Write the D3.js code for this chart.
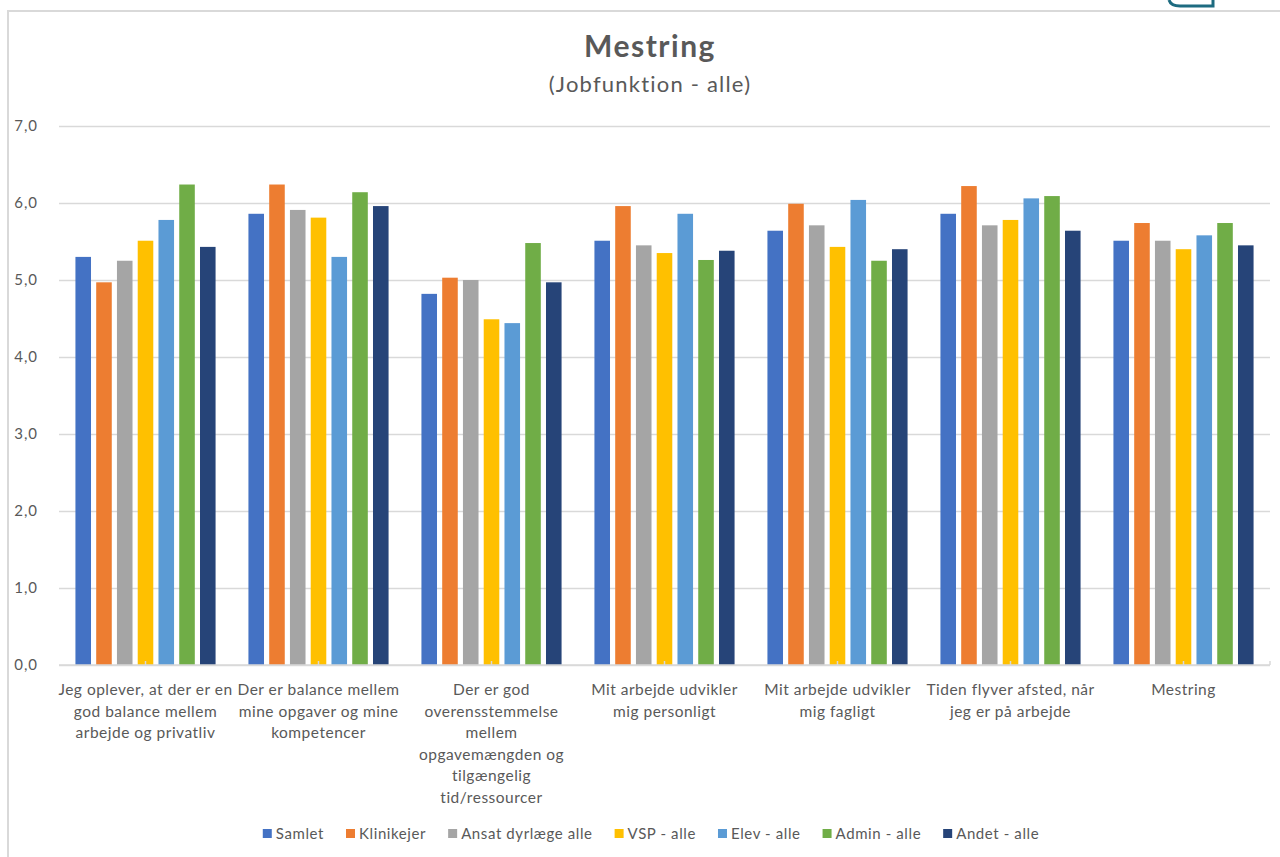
<!DOCTYPE html>
<html>
<head>
<meta charset="utf-8">
<script src="https://cdn.jsdelivr.net/npm/d3@7"></script>
<style>
  html, body { margin: 0; padding: 0; background: #fff; }
  svg { display: block; }
  text { font-family: Lato, "Open Sans", sans-serif; fill: #595959; }
</style>
</head>
<body>
<svg id="chart" width="1280" height="857"></svg>
<script>
// Survey: "Mestring" scores per job function
const categories = [
  "Jeg oplever, at der er en god balance mellem arbejde og privatliv",
  "Der er balance mellem mine opgaver og mine kompetencer",
  "Der er god overensstemmelse mellem opgavemængden og tilgængelig tid/ressourcer",
  "Mit arbejde udvikler mig personligt",
  "Mit arbejde udvikler mig fagligt",
  "Tiden flyver afsted, når jeg er på arbejde",
  "Mestring"
];
const categoryLines = [
  ["Jeg oplever, at der er en", "god balance mellem", "arbejde og privatliv"],
  ["Der er balance mellem", "mine opgaver og mine", "kompetencer"],
  ["Der er god", "overensstemmelse", "mellem", "opgavemængden og", "tilgængelig", "tid/ressourcer"],
  ["Mit arbejde udvikler", "mig personligt"],
  ["Mit arbejde udvikler", "mig fagligt"],
  ["Tiden flyver afsted, når", "jeg er på arbejde"],
  ["Mestring"]
];
const seriesNames = ["Samlet", "Klinikejer", "Ansat dyrlæge alle", "VSP - alle", "Elev - alle", "Admin - alle", "Andet - alle"];
const samlet     = [5.30, 5.86, 4.82, 5.51, 5.64, 5.86, 5.51];
const klinikejer = [4.97, 6.24, 5.03, 5.96, 5.99, 6.22, 5.74];
const ansat      = [5.25, 5.91, 5.00, 5.45, 5.71, 5.71, 5.51];
const vsp        = [5.51, 5.81, 4.49, 5.35, 5.43, 5.78, 5.40];
const elev       = [5.78, 5.30, 4.44, 5.86, 6.04, 6.06, 5.58];
const admin      = [6.24, 6.14, 5.48, 5.26, 5.25, 6.09, 5.74];
const andet      = [5.43, 5.96, 4.97, 5.38, 5.40, 5.64, 5.45];
const seriesValues = [samlet, klinikejer, ansat, vsp, elev, admin, andet];
const seriesColors = ["#4472C4", "#ED7D31", "#A5A5A5", "#FFC000", "#5B9BD5", "#70AD47", "#264478"];
const yTicks = [0, 1, 2, 3, 4, 5, 6, 7];

const svg = d3.select("#chart");
const plot = { left: 59, right: 1270, top: 126, bottom: 665 };

// Chart frame and a partial corner emblem above it
svg.append("rect")
  .attr("x", 8).attr("y", 11).attr("width", 1300).attr("height", 900)
  .attr("fill", "#fff").attr("stroke", "#d9d9d9").attr("stroke-width", 2);
svg.append("path")
  .attr("d", "M1169,0 Q1171,6 1180,6 L1213,6 L1213,0")
  .attr("fill", "none").attr("stroke", "#1d6b80").attr("stroke-width", 3);

// Titles
svg.append("text").attr("x", 650).attr("y", 57).attr("text-anchor", "middle")
  .style("font-size", "30px").style("font-weight", "bold").style("letter-spacing", "1.5px")
  .text("Mestring");
svg.append("text").attr("x", 650).attr("y", 92).attr("text-anchor", "middle")
  .style("font-size", "22px").style("letter-spacing", "1.2px").text("(Jobfunktion - alle)");

// Scales
const x0 = d3.scaleBand().domain(categories).range([plot.left, plot.right])
  .paddingInner(0.19).paddingOuter(0.095);
const x1 = d3.scaleBand().domain(seriesNames).range([0, x0.bandwidth()]).paddingInner(0.25);
const y = d3.scaleLinear().domain([0, 7]).range([plot.bottom, plot.top]);

// Grid lines and y labels
const yAxis = svg.append("g").attr("transform", `translate(${plot.left},0)`)
  .call(d3.axisLeft(y).tickValues(yTicks).tickSize(-(plot.right - plot.left))
    .tickFormat(d => d3.format(".1f")(d).replace(".", ",")).tickPadding(21));
yAxis.select(".domain").remove();
yAxis.selectAll(".tick line").attr("stroke", "#d9d9d9").attr("stroke-width", 1.5);
yAxis.selectAll(".tick text").style("font-size", "15px").style("letter-spacing", "1px")
  .attr("fill", "#595959").style("font-family", "Lato, sans-serif");

// Bars
const groups = svg.append("g").selectAll("g").data(categories).join("g")
  .attr("transform", d => `translate(${x0(d)},0)`);
groups.selectAll("rect")
  .data((c, ci) => seriesNames.map((s, si) => ({ s, v: seriesValues[si][ci], color: seriesColors[si] })))
  .join("rect")
  .attr("x", d => x1(d.s))
  .attr("width", x1.bandwidth())
  .attr("y", d => y(d.v))
  .attr("height", d => y(0) - y(d.v))
  .attr("fill", d => d.color);

// Category axis
svg.append("line").attr("x1", plot.left).attr("x2", plot.right)
  .attr("y1", y(0)).attr("y2", y(0)).attr("stroke", "#d9d9d9").attr("stroke-width", 1.5);
const tickXs = categories.map(c => x0(c) + x0.bandwidth() / 2).concat([plot.right]);
svg.append("g").selectAll("line").data(tickXs).join("line")
  .attr("x1", d => d).attr("x2", d => d)
  .attr("y1", y(0)).attr("y2", y(0) - 4)
  .attr("stroke", "#d9d9d9").attr("stroke-width", 1.5);

const labels = svg.append("g").selectAll("text").data(categories).join("text")
  .attr("text-anchor", "middle").style("font-size", "15.5px").style("letter-spacing", "0.5px")
  .attr("transform", d => `translate(${x0(d) + x0.bandwidth() / 2},695)`);
labels.each(function (d, i) {
  d3.select(this).selectAll("tspan").data(categoryLines[i]).join("tspan")
    .attr("x", 0).attr("y", (l, k) => k * 21.6).text(l => l);
});

// Legend
const legend = svg.append("g");
const items = legend.selectAll("g").data(seriesNames).join("g");
items.append("rect").attr("width", 9).attr("height", 9).attr("y", 829)
  .attr("fill", (d, i) => seriesColors[i]);
items.append("text").attr("x", 13).attr("y", 838.5).style("font-size", "15px")
  .style("letter-spacing", "0.6px").text(d => d);
let cursor = 0;
const offsets = [];
items.each(function () {
  offsets.push(cursor);
  cursor += 13 + this.querySelector("text").getComputedTextLength() + 22;
});
const total = cursor - 22;
const start = 651 - total / 2;
items.attr("transform", (d, i) => `translate(${start + offsets[i]},0)`);
</script>
</body>
</html>
